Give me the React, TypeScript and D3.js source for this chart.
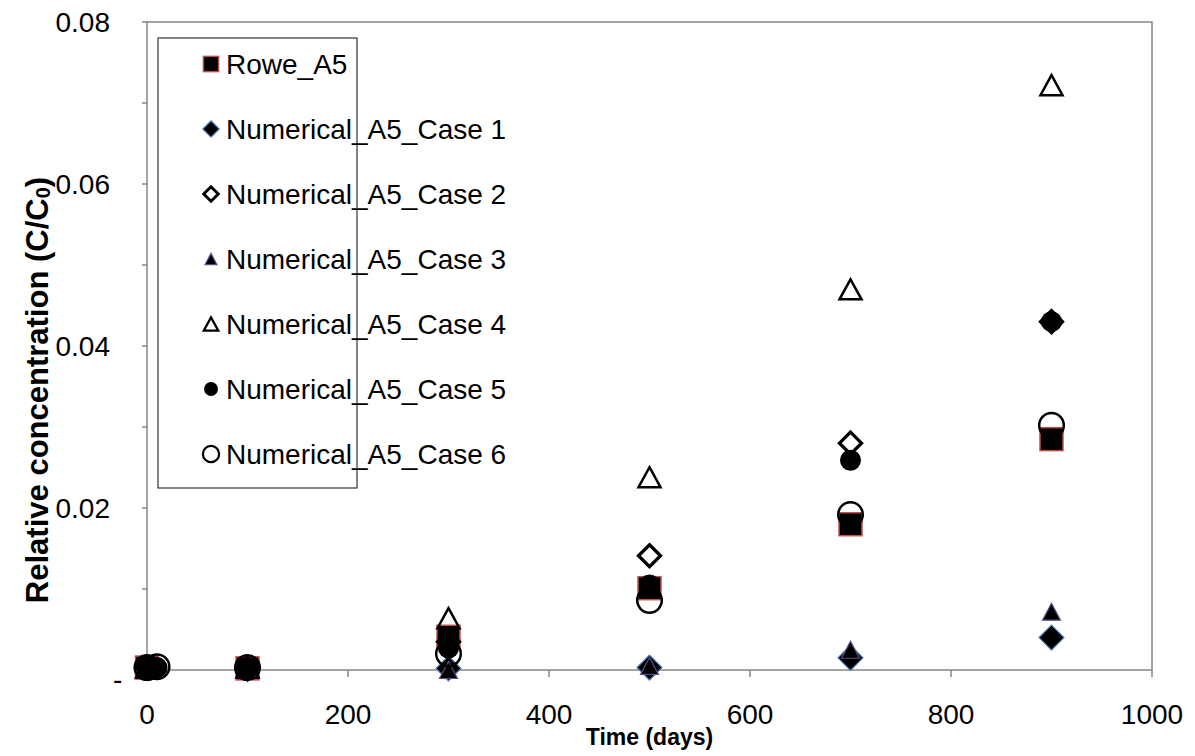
import React from "react";
import * as d3 from "d3";

// ---- data ----
const roweT = [0, 100, 300, 500, 700, 900];
const roweA5 = [0.0003, 0.0002, 0.0041, 0.0101, 0.018, 0.0285];
const caseT = [0, 100, 300, 500, 700, 900];
const case1 = [0.0002, 0.0001, 0.0002, 0.0003, 0.0015, 0.004];
const case2 = [0.0003, 0.0002, 0.0035, 0.0141, 0.028, 0.043];
const case3 = [0.0002, 0.0001, 0.0, 0.0005, 0.0025, 0.0072];
const case4 = [0.0003, 0.0003, 0.0064, 0.0238, 0.047, 0.0722];
const earlyT = [0, 10, 100, 300, 500, 700, 900];
const case5 = [0.0003, 0.0003, 0.0003, 0.0027, 0.0105, 0.0259, 0.043];
const case6 = [0.0003, 0.0004, 0.0003, 0.002, 0.0086, 0.0192, 0.0302];

const seriesNames = [
  "Rowe_A5",
  "Numerical_A5_Case 1",
  "Numerical_A5_Case 2",
  "Numerical_A5_Case 3",
  "Numerical_A5_Case 4",
  "Numerical_A5_Case 5",
  "Numerical_A5_Case 6",
];
const xTicks = [0, 200, 400, 600, 800, 1000];
const yTickLabels = ["0.02", "0.04", "0.06", "0.08"];
const yMinorTicks = [0, 0.01, 0.02, 0.03, 0.04, 0.05, 0.06, 0.07, 0.08];

type Kind = "square" | "fdiamond" | "odiamond" | "ftri" | "otri" | "fcircle" | "ocircle";
const kinds: Kind[] = ["square", "fdiamond", "odiamond", "ftri", "otri", "fcircle", "ocircle"];
const seriesT = [roweT, caseT, caseT, caseT, caseT, earlyT, earlyT];
const seriesV = [roweA5, case1, case2, case3, case4, case5, case6];

const FONT = "Arial, 'Liberation Sans', sans-serif";

function Marker({ kind, x, y, s }: { kind: Kind; x: number; y: number; s: number }) {
  const sw = (v: number) => v * Math.max(s, 0.9);
  switch (kind) {
    case "square": {
      const h = 11.5 * s;
      return <rect x={x - h} y={y - h} width={2 * h} height={2 * h} fill="#000" stroke="#C0504D" strokeWidth={1.5} />;
    }
    case "fdiamond": {
      const h = 12.5 * s;
      return <path d={`M${x},${y - h}L${x + h},${y}L${x},${y + h}L${x - h},${y}Z`} fill="#000" stroke="#4F81BD" strokeWidth={1.2} />;
    }
    case "odiamond": {
      const h = 11 * s;
      return <path d={`M${x},${y - h}L${x + h},${y}L${x},${y + h}L${x - h},${y}Z`} fill="none" stroke="#000" strokeWidth={sw(3.3)} />;
    }
    case "ftri": {
      const w = 9 * s;
      const h = 8.5 * s;
      return <path d={`M${x},${y - h}L${x + w},${y + h}L${x - w},${y + h}Z`} fill="#000" stroke="#5F4B8B" strokeWidth={1.2} />;
    }
    case "otri": {
      const w = 11 * s;
      const h = 10 * s;
      return <path d={`M${x},${y - h}L${x + w},${y + h}L${x - w},${y + h}Z`} fill="none" stroke="#000" strokeWidth={sw(2.5)} />;
    }
    case "fcircle": {
      return <circle cx={x} cy={y} r={10.5 * s} fill="#000" />;
    }
    case "ocircle": {
      return <circle cx={x} cy={y} r={12.3 * s} fill="none" stroke="#000" strokeWidth={sw(2.5)} />;
    }
  }
  return null;
}

export default function App() {
  const W = 1195;
  const H = 756;
  const left = 147;
  const right = 1152;
  const top = 22;
  const bottom = 670;

  const x = d3.scaleLinear().domain([0, 1000]).range([left, right]);
  const y = d3.scaleLinear().domain([0, 0.08]).range([bottom, top]);

  const axisColor = "#878787";

  const legend = { x: 158, y: 38, w: 199, h: 450, markerX: 211, textX: 226, row0: 64, rowStep: 65 };

  return (
    <svg
      width={W}
      height={H}
      style={{ position: "absolute", left: 0, top: 0, background: "#fff" }}
      fontFamily={FONT}
    >
      <rect x={0} y={0} width={W} height={H} fill="#fff" />
      {/* plot area border */}
      <rect x={left} y={top} width={right - left} height={bottom - top} fill="none" stroke={axisColor} strokeWidth={1.5} />

      {/* y ticks */}
      {yMinorTicks.map((v, i) => (
        <line key={"yt" + i} x1={left - 5} x2={left} y1={y(v)} y2={y(v)} stroke={axisColor} strokeWidth={1.5} />
      ))}
      {yTickLabels.map((t) => (
        <text key={t} x={110} y={y(+t)} textAnchor="end" dominantBaseline="central" fontSize={28} fill="#000">
          {t}
        </text>
      ))}
      <text x={113} y={y(0) + 19} fontSize={28} fill="#000">
        -
      </text>

      {/* x ticks */}
      {xTicks.map((v) => (
        <g key={"xt" + v}>
          <line x1={x(v)} x2={x(v)} y1={bottom} y2={bottom + 7} stroke={axisColor} strokeWidth={1.5} />
          <text x={x(v)} y={bottom + 44} textAnchor="middle" dominantBaseline="central" fontSize={28} fill="#000">
            {v}
          </text>
        </g>
      ))}

      {/* axis titles */}
      <text x={x(500)} y={737} textAnchor="middle" dominantBaseline="central" fontSize={23} fontWeight="bold" fill="#000">
        Time (days)
      </text>
      <text
        transform={`translate(37,${390}) rotate(-90)`}
        textAnchor="middle"
        dominantBaseline="central"
        fontSize={31}
        fontWeight="bold"
        fill="#000"
      >
        Relative concentration (C/C
        <tspan fontSize={20} dy={6}>0</tspan>
        <tspan dy={-6}>)</tspan>
      </text>

      {/* data */}
      {kinds.map((k, si) => (
        <g key={"s" + si}>
          {seriesV[si].map((v, i) => (
            <Marker key={i} kind={k} x={x(seriesT[si][i])} y={y(v)} s={1} />
          ))}
        </g>
      ))}

      {/* legend */}
      <rect x={legend.x} y={legend.y} width={legend.w} height={legend.h} fill="none" stroke="#333" strokeWidth={1.2} />
      {seriesNames.map((name, i) => {
        const ly = legend.row0 + legend.rowStep * i;
        return (
          <g key={name}>
            <Marker kind={kinds[i]} x={legend.markerX} y={ly} s={0.66} />
            <text x={legend.textX} y={ly} dominantBaseline="central" fontSize={28} fill="#000">
              {name}
            </text>
          </g>
        );
      })}
    </svg>
  );
}
